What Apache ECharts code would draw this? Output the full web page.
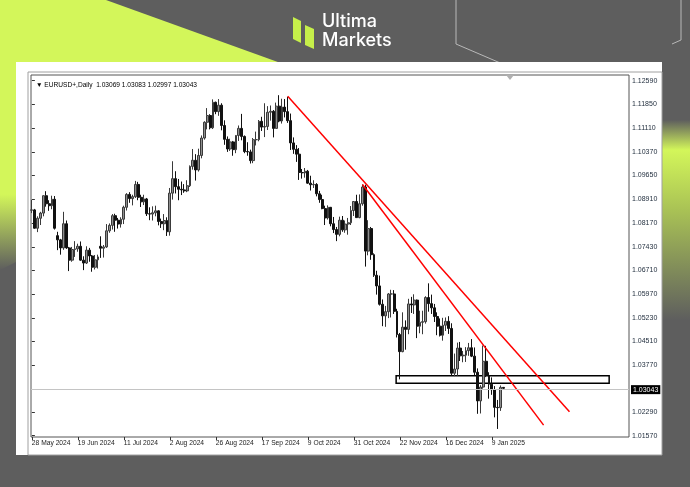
<!DOCTYPE html>
<html>
<head>
<meta charset="utf-8">
<script src="https://cdn.jsdelivr.net/npm/echarts@6/dist/echarts.min.js"></script>
<style>
  html, body { margin: 0; padding: 0; background: #5e5e5e; }
  #chart { width: 690px; height: 487px; }
</style>
</head>
<body>
<div id="chart"></div>
<script>
// EURUSD+ daily candles, 28 May 2024 - 15 Jan 2025: [open, high, low, close]
const candles = [
  [1.0857,1.0889,1.0848,1.0858],[1.0858,1.0861,1.0800,1.0801],[1.0801,1.0838,1.0789,1.0832],[1.0832,1.0852,1.0811,1.0848],
  [1.0848,1.0903,1.0838,1.0902],[1.0902,1.0916,1.0868,1.0877],[1.0877,1.0888,1.0855,1.0871],[1.0871,1.0902,1.0860,1.0891],
  [1.0891,1.0901,1.0797,1.0801],[1.0778,1.0790,1.0733,1.0765],[1.0765,1.0768,1.0719,1.0740],[1.0740,1.0852,1.0734,1.0815],
  [1.0815,1.0825,1.0737,1.0740],[1.0740,1.0743,1.0668,1.0702],[1.0702,1.0743,1.0697,1.0735],[1.0735,1.0761,1.0712,1.0737],
  [1.0737,1.0753,1.0728,1.0745],[1.0745,1.0760,1.0700,1.0702],[1.0702,1.0714,1.0671,1.0693],[1.0693,1.0745,1.0690,1.0733],
  [1.0733,1.0740,1.0697,1.0715],[1.0715,1.0718,1.0666,1.0680],[1.0680,1.0718,1.0673,1.0703],[1.0703,1.0719,1.0676,1.0712],
  [1.0745,1.0776,1.0709,1.0739],[1.0739,1.0749,1.0710,1.0743],[1.0743,1.0814,1.0740,1.0793],[1.0793,1.0816,1.0787,1.0810],
  [1.0810,1.0845,1.0797,1.0840],[1.0840,1.0846,1.0790,1.0826],[1.0826,1.0833,1.0800,1.0814],[1.0814,1.0835,1.0803,1.0829],
  [1.0829,1.0871,1.0814,1.0866],[1.0866,1.0910,1.0856,1.0906],[1.0906,1.0913,1.0880,1.0893],[1.0893,1.0905,1.0872,1.0899],
  [1.0899,1.0948,1.0895,1.0937],[1.0937,1.0945,1.0888,1.0897],[1.0897,1.0905,1.0867,1.0883],[1.0883,1.0905,1.0873,1.0892],
  [1.0892,1.0895,1.0839,1.0846],[1.0846,1.0866,1.0826,1.0845],[1.0845,1.0869,1.0825,1.0849],[1.0849,1.0871,1.0838,1.0855],
  [1.0855,1.0857,1.0810,1.0822],[1.0822,1.0831,1.0802,1.0815],[1.0815,1.0845,1.0795,1.0825],[1.0825,1.0835,1.0777,1.0790],
  [1.0790,1.0926,1.0778,1.0910],[1.0910,1.1009,1.0890,1.0955],[1.0955,1.0978,1.0909,1.0930],[1.0930,1.0954,1.0888,1.0922],
  [1.0922,1.0946,1.0904,1.0920],[1.0920,1.0938,1.0911,1.0917],[1.0917,1.0950,1.0913,1.0933],[1.0933,1.0996,1.0929,1.0993],
  [1.0993,1.1047,1.0983,1.1012],[1.1012,1.1031,1.0949,1.0982],[1.0982,1.1048,1.0977,1.1027],[1.1027,1.1089,1.1018,1.1081],
  [1.1081,1.1133,1.1076,1.1130],[1.1130,1.1174,1.1108,1.1151],[1.1151,1.1155,1.1108,1.1113],[1.1113,1.1201,1.1109,1.1192],
  [1.1192,1.1194,1.1155,1.1163],[1.1163,1.1202,1.1150,1.1183],[1.1183,1.1189,1.1105,1.1120],[1.1120,1.1136,1.1060,1.1077],
  [1.1077,1.1086,1.1038,1.1047],[1.1047,1.1079,1.1041,1.1069],[1.1069,1.1072,1.1026,1.1045],[1.1045,1.1090,1.1034,1.1089],
  [1.1089,1.1120,1.1072,1.1111],[1.1111,1.1156,1.1074,1.1086],[1.1086,1.1089,1.1034,1.1039],[1.1039,1.1068,1.1026,1.1038],
  [1.1038,1.1045,1.1002,1.1011],[1.1011,1.1081,1.1003,1.1076],[1.1076,1.1101,1.1058,1.1076],[1.1076,1.1137,1.1071,1.1133],
  [1.1133,1.1147,1.1103,1.1115],[1.1115,1.1189,1.1084,1.1117],[1.1117,1.1180,1.1106,1.1161],[1.1161,1.1182,1.1135,1.1164],
  [1.1164,1.1168,1.1083,1.1111],[1.1111,1.1191,1.1110,1.1180],[1.1180,1.1214,1.1130,1.1134],[1.1134,1.1203,1.1126,1.1177],
  [1.1177,1.1202,1.1145,1.1163],[1.1163,1.1209,1.1128,1.1135],[1.1135,1.1157,1.1044,1.1066],[1.1066,1.1083,1.1032,1.1046],
  [1.1046,1.1059,1.1007,1.1031],[1.1031,1.1050,1.0951,1.0974],[1.0974,1.0985,1.0955,1.0973],[1.0973,1.0988,1.0958,1.0978],
  [1.0978,1.0982,1.0939,1.0941],[1.0941,1.0964,1.0918,1.0936],[1.0936,1.0950,1.0926,1.0937],[1.0937,1.0941,1.0900,1.0908],
  [1.0908,1.0917,1.0880,1.0890],[1.0890,1.0905,1.0860,1.0862],[1.0862,1.0871,1.0811,1.0833],[1.0833,1.0872,1.0828,1.0866],
  [1.0866,1.0867,1.0807,1.0815],[1.0815,1.0836,1.0786,1.0797],[1.0797,1.0805,1.0761,1.0782],[1.0782,1.0837,1.0776,1.0826],
  [1.0826,1.0839,1.0790,1.0796],[1.0796,1.0825,1.0787,1.0814],[1.0814,1.0833,1.0781,1.0818],[1.0818,1.0870,1.0811,1.0856],
  [1.0856,1.0885,1.0839,1.0884],[1.0884,1.0905,1.0834,1.0834],[1.0834,1.0906,1.0832,1.0877],[1.0877,1.0937,1.0871,1.0929],
  [1.0929,1.0936,1.0682,1.0730],[1.0730,1.0826,1.0717,1.0800],[1.0800,1.0805,1.0703,1.0719],[1.0719,1.0723,1.0650,1.0655],
  [1.0655,1.0669,1.0595,1.0622],[1.0622,1.0654,1.0561,1.0565],[1.0565,1.0580,1.0497,1.0529],[1.0529,1.0560,1.0495,1.0542],
  [1.0542,1.0600,1.0522,1.0597],[1.0597,1.0610,1.0524,1.0597],[1.0597,1.0609,1.0535,1.0543],[1.0543,1.0551,1.0462,1.0471],
  [1.0471,1.0476,1.0332,1.0418],[1.0418,1.0540,1.0416,1.0494],[1.0494,1.0515,1.0424,1.0487],[1.0487,1.0582,1.0472,1.0566],
  [1.0566,1.0588,1.0538,1.0563],[1.0563,1.0596,1.0535,1.0578],[1.0578,1.0580,1.0460,1.0497],[1.0497,1.0545,1.0475,1.0509],
  [1.0509,1.0545,1.0472,1.0511],[1.0511,1.0590,1.0505,1.0586],[1.0586,1.0630,1.0542,1.0567],[1.0567,1.0595,1.0535,1.0554],
  [1.0554,1.0566,1.0510,1.0527],[1.0527,1.0540,1.0469,1.0497],[1.0497,1.0521,1.0465,1.0469],[1.0469,1.0523,1.0452,1.0500],
  [1.0500,1.0524,1.0482,1.0512],[1.0512,1.0528,1.0473,1.0490],[1.0490,1.0506,1.0343,1.0351],[1.0351,1.0412,1.0342,1.0364],
  [1.0364,1.0446,1.0343,1.0429],[1.0429,1.0448,1.0389,1.0405],[1.0405,1.0420,1.0385,1.0407],[1.0407,1.0432,1.0386,1.0421],
  [1.0421,1.0445,1.0405,1.0430],[1.0430,1.0457,1.0401,1.0404],[1.0404,1.0431,1.0345,1.0354],[1.0354,1.0366,1.0225,1.0265],
  [1.0265,1.0314,1.0226,1.0308],[1.0308,1.0437,1.0303,1.0388],[1.0388,1.0436,1.0339,1.0344],[1.0344,1.0354,1.0272,1.0317],
  [1.0317,1.0338,1.0284,1.0300],[1.0300,1.0311,1.0214,1.0245],[1.0245,1.0268,1.0178,1.0244],[1.0244,1.0313,1.0234,1.0307],
  [1.03069,1.03083,1.02997,1.03043]
];

// Session calendar: weekdays from the first session, market holidays skipped
const firstSession = '2024-05-28';
const holidays = ['2024-12-25', '2025-01-01'];

// Price scale labels and time scale spacing (a date label every 16 sessions)
const priceTicks = [1.12590, 1.11850, 1.11110, 1.10370, 1.09650, 1.08910, 1.08170,
                    1.07430, 1.06710, 1.05970, 1.05230, 1.04510, 1.03770, 1.02290, 1.01570];
const timeTickEvery = 16;

// Trend lines [session index, price] and the support box
const trendUpper = [[89, 1.1211], [187, 1.0231]];
const trendLower = [[115, 1.0937], [178, 1.0190]];
const supportBox = [[126.7, 1.03432], [200.8, 1.03197]];

const symbolName = 'EURUSD+,Daily';
const futureSlots = 43;

// --- build session dates
const months = ['Jan','Feb','Mar','Apr','May','Jun','Jul','Aug','Sep','Oct','Nov','Dec'];
const sessionDates = [];
(function () {
  const d = new Date(firstSession + 'T00:00:00Z');
  while (sessionDates.length < candles.length) {
    const iso = d.toISOString().slice(0, 10);
    const wd = d.getUTCDay();
    if (wd !== 0 && wd !== 6 && holidays.indexOf(iso) < 0) {
      sessionDates.push(d.getUTCDate() + ' ' + months[d.getUTCMonth()] + ' ' + d.getUTCFullYear());
    }
    d.setUTCDate(d.getUTCDate() + 1);
  }
})();

const last = candles[candles.length - 1];
const fmt = v => v.toFixed(5);
const header = '\u25BC ' + symbolName + '  ' + last.map(fmt).join(' ');

// candlestick rows: [index, open, close, low, high]
const candleRows = candles.map((c, i) => [i, c[0], c[3], c[2], c[1]]);
const timeTicks = [];
for (let i = 0; i < candles.length; i += timeTickEvery) timeTicks.push(i);

const chart = echarts.init(document.getElementById('chart'), null, { renderer: 'canvas' });

const lime = '#d3f65a';
const uiFont = 'Liberation Sans';
const option = {
  backgroundColor: '#5e5e5e',
  animation: false,
  graphic: [
    // left lime wedge
    { type: 'polygon', z: -10, shape: { points: [[0,0],[106,0],[300,70],[300,120],[0,270]] },
      style: { fill: { type: 'linear', x: 0, y: 0, x2: 0, y2: 1,
        colorStops: [{ offset: 0, color: lime }, { offset: 0.72, color: lime }, { offset: 1, color: '#5e5e5e' }] } } },
    // right lime glow
    { type: 'rect', z: -10, shape: { x: 640, y: 120, width: 50, height: 200 },
      style: { fill: { type: 'linear', x: 0, y: 0, x2: 0, y2: 1,
        colorStops: [{ offset: 0, color: '#5e5e5e' }, { offset: 0.15, color: lime }, { offset: 0.45, color: '#a9c255' }, { offset: 1, color: '#5e5e5e' }] } } },
    // thin outline strokes at top right
    { type: 'polyline', z: -9, shape: { points: [[456,0],[456,44],[540,80]] }, style: { stroke: '#b8b8b8', lineWidth: 1, fill: null } },
    { type: 'polyline', z: -9, shape: { points: [[681,0],[681,40],[672,44]] }, style: { stroke: '#b8b8b8', lineWidth: 1, fill: null } },
    // white panel
    { type: 'rect', z: -5, shape: { x: 16, y: 62, width: 646, height: 393 }, style: { fill: '#ffffff' } },
    { type: 'rect', z: -4, shape: { x: 28, y: 72, width: 634, height: 383 }, style: { fill: '#ffffff', stroke: '#a0a0a0', lineWidth: 1 } },
    // logo
    { type: 'polygon', z: 5, shape: { points: [[293,17],[301,21],[301,43],[293,39]] }, style: { fill: '#c6ef4a' } },
    { type: 'polygon', z: 5, shape: { points: [[305,25],[314,29],[314,49],[305,45]] }, style: { fill: '#c6ef4a' } },
    { type: 'text', z: 5, left: 322, top: 13, style: { text: 'Ultima', fill: '#ffffff', font: '500 18px Inter, Roboto, sans-serif' } },
    { type: 'text', z: 5, left: 322, top: 32, style: { text: 'Markets', fill: '#ffffff', font: '500 18px Inter, Roboto, sans-serif' } },
    // chart-shift marker
    { type: 'polygon', z: 5, shape: { points: [[506,75],[514,75],[510,80]] }, style: { fill: '#b0b0b0' } }
  ],
  title: {
    text: header, left: 31, top: 77,
    textStyle: { fontSize: 6.6, fontWeight: 'normal', color: '#000', fontFamily: uiFont }
  },
  grid: { left: 31, top: 75, right: 61, bottom: 50, show: true, borderColor: '#555', borderWidth: 1, backgroundColor: '#fff' },
  xAxis: {
    type: 'value', min: -0.3, max: candles.length - 1 + futureSlots + 0.7,
    splitLine: { show: false }, axisLine: { show: false },
    axisTick: { show: true, length: 3, lineStyle: { color: '#333' }, customValues: timeTicks },
    axisLabel: { customValues: timeTicks, formatter: v => sessionDates[Math.round(v)] || '',
      align: 'left', fontSize: 6.7, color: '#1a1a1a', margin: 3, fontFamily: uiFont }
  },
  yAxis: {
    type: 'value', position: 'right', min: 1.0153, max: 1.12767, scale: true,
    splitLine: { show: false }, axisLine: { show: false },
    axisTick: { show: true, length: 3, lineStyle: { color: '#333' }, customValues: priceTicks },
    axisLabel: { customValues: priceTicks, formatter: v => v.toFixed(5), fontSize: 7, color: '#1d2a3a', margin: 3, fontFamily: uiFont }
  },
  series: [
    {
      type: 'candlestick', data: candleRows, encode: { x: 0, y: [1, 2, 3, 4] }, barWidth: 2.4,
      itemStyle: { color: '#8e8e8e', color0: '#111', borderColor: '#3a3a3a', borderColor0: '#111', borderWidth: 1 },
      markLine: {
        symbol: 'none', silent: true,
        lineStyle: { color: '#c4c4c4', width: 1, type: 'solid' },
        data: [{ yAxis: last[3], label: { show: true, position: 'end', formatter: fmt(last[3]), color: '#fff',
          backgroundColor: '#000', padding: [1, 2, 1, 2], fontSize: 7, distance: 2, fontFamily: uiFont } }]
      },
      markArea: {
        silent: true,
        itemStyle: { color: 'rgba(0,0,0,0)', borderColor: '#000', borderWidth: 1.5 },
        data: [[{ coord: supportBox[0] }, { coord: supportBox[1] }]]
      }
    },
    { type: 'line', data: trendUpper, symbol: 'none', lineStyle: { color: '#ff0000', width: 1.5 }, z: 4 },
    { type: 'line', data: trendLower, symbol: 'none', lineStyle: { color: '#ff0000', width: 1.5 }, z: 4 }
  ]
};
chart.setOption(option);
</script>
</body>
</html>
